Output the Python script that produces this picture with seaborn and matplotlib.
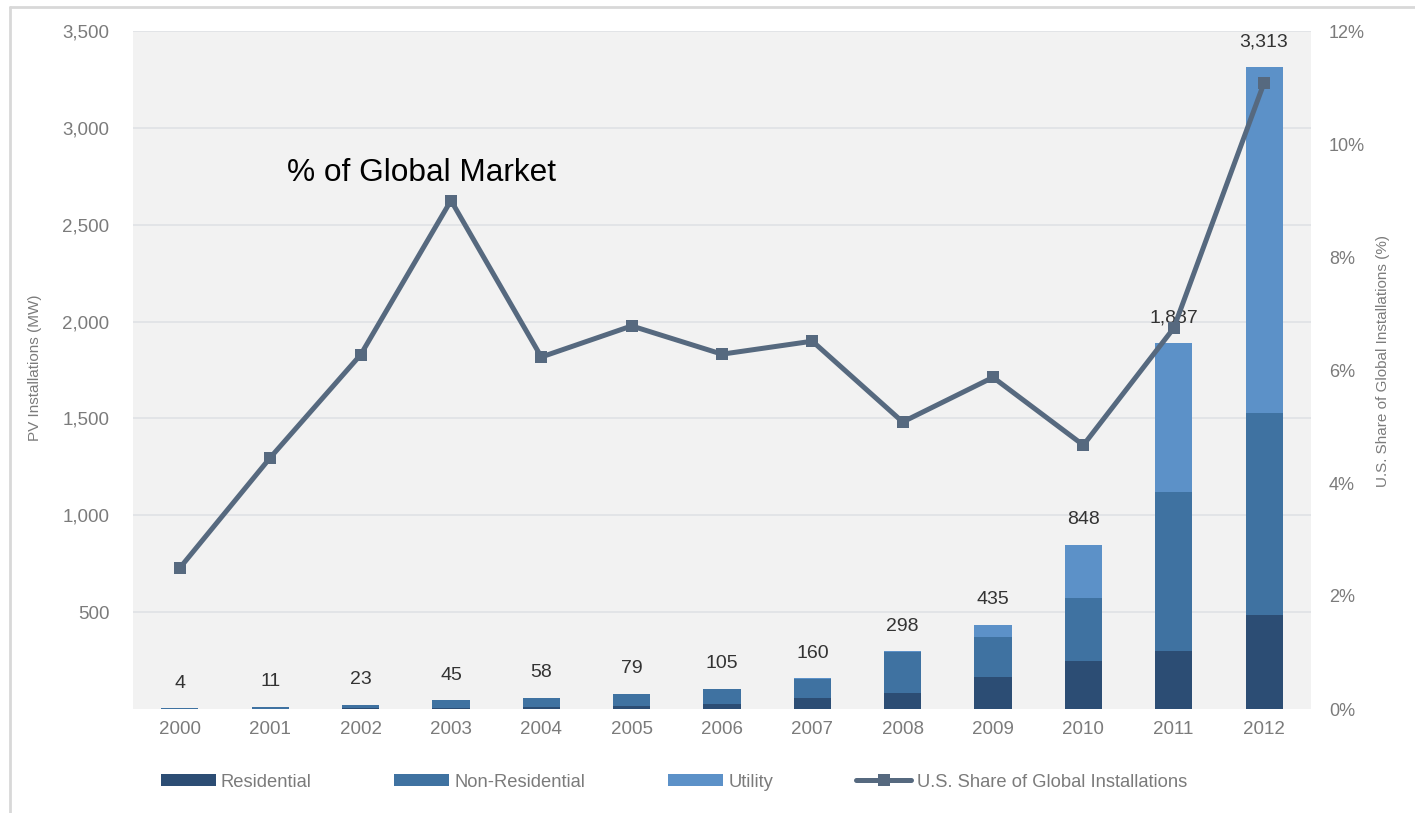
import matplotlib
matplotlib.use("Agg")
import matplotlib.pyplot as plt
from matplotlib.lines import Line2D
from matplotlib.patches import Patch
import numpy as np
import pandas as pd
import seaborn as sns

# --- data -------------------------------------------------------------
years = ["2000", "2001", "2002", "2003", "2004", "2005", "2006",
         "2007", "2008", "2009", "2010", "2011", "2012"]
residential = [1, 2, 4, 7, 12, 18, 27, 58, 82, 166, 249, 300, 484]
non_residential = [3, 9, 19, 38, 46, 61, 78, 99, 210, 206, 326, 819, 1042]
utility = [0, 0, 0, 0, 0, 0, 0, 3, 6, 63, 273, 768, 1787]
totals = [4, 11, 23, 45, 58, 79, 105, 160, 298, 435, 848, 1887, 3313]
us_share_pct = [2.5, 4.45, 6.27, 9.0, 6.23, 6.78, 6.28, 6.51, 5.08, 5.87, 4.67, 6.74, 11.08]

left_ticks = [500, 1000, 1500, 2000, 2500, 3000, 3500]
right_ticks = [0, 2, 4, 6, 8, 10, 12]

df = pd.DataFrame({
    "year": years,
    "res": residential,
    "res_nonres": np.add(residential, non_residential),
    "total": totals,
    "share": us_share_pct,
    "pos": np.arange(len(years)),
})

# --- style ------------------------------------------------------------
sns.set_theme(style="white")
plt.rcParams["font.family"] = ["Liberation Sans", "DejaVu Sans"]

c_res = "#2c4d74"
c_non = "#3f72a1"
c_uti = "#5c91c8"
c_line = "#56697f"
c_tick = "#7b7b7b"
c_val = "#333333"

W, H = 1415, 813
fig = plt.figure(figsize=(W / 100, H / 100), dpi=100)
fig.patch.set_facecolor("white")
ax = fig.add_axes([133 / W, 1 - 709 / H, (1311 - 133) / W, (709 - 31) / H])
ax.set_facecolor("#f2f2f2")

# stacked bars: draw cumulative heights from tallest to shortest
bw = 0.41
bar_kw = dict(width=bw, saturation=1, ax=ax, zorder=2, linewidth=0, edgecolor="none")
sns.barplot(data=df, x="year", y="total", color=c_uti, **bar_kw)
sns.barplot(data=df, x="year", y="res_nonres", color=c_non, **bar_kw)
sns.barplot(data=df, x="year", y="res", color=c_res, **bar_kw)

ax.set_xlim(-0.52, 12.52)
ax.set_ylim(0, 3500)
ax.set_yticks(left_ticks)
ax.set_yticklabels([f"{v:,}" for v in left_ticks])
ax.yaxis.grid(True, color="#e2e4e7", lw=1.4, zorder=0)
ax.set_axisbelow(True)
ax.tick_params(axis="y", length=0, pad=17, labelsize=13.5, labelcolor=c_tick)
ax.tick_params(axis="x", length=0, pad=9, labelsize=13.5, labelcolor=c_tick)
ax.set_xlabel("")
ax.set_ylabel("PV Installations (MW)", fontsize=11, color=c_tick)
ax.yaxis.set_label_coords((35 - 133) / 1178, (709 - 368) / 678)
ax.yaxis.label.set_va("center")
for s in ax.spines.values():
    s.set_visible(False)

# total labels above each bar
for i, t in enumerate(totals):
    ax.annotate(f"{t:,}", (i, t), xytext=(0, 18), textcoords="offset points",
                ha="center", va="center", fontsize=14, color=c_val, zorder=6)

# share line on the secondary axis
ax2 = ax.twinx()
sns.lineplot(data=df, x="pos", y="share", color=c_line, lw=3.6,
             marker="s", markersize=8, markeredgewidth=0, ax=ax2, zorder=5)
ax2.set_ylim(0, 12)
ax2.set_yticks(right_ticks)
ax2.set_yticklabels([f"{v}%" for v in right_ticks])
ax2.tick_params(axis="y", length=0, pad=13, labelsize=13, labelcolor=c_tick)
ax2.set_ylabel("U.S. Share of Global Installations (%)", fontsize=11, color=c_tick)
ax2.yaxis.set_label_coords((1383 - 133) / 1178, (709 - 361) / 678)
ax2.yaxis.label.set_va("center")
ax2.set_xlabel("")
for s in ax2.spines.values():
    s.set_visible(False)
ax2.set_xlim(-0.52, 12.52)

ax.text(1.18, 2768, "% of Global Market", fontsize=22.8, color="black",
        ha="left", va="center", zorder=7)

# legend below the plot
handles = [
    Patch(facecolor=c_res, edgecolor="none"),
    Patch(facecolor=c_non, edgecolor="none"),
    Patch(facecolor=c_uti, edgecolor="none"),
    Line2D([0], [0], color=c_line, lw=3.6, marker="s", markersize=8,
           markeredgewidth=0),
]
labels = ["Residential", "Non-Residential", "Utility",
          "U.S. Share of Global Installations"]
leg = fig.legend(handles, labels, loc="center left",
                 bbox_to_anchor=(155 / W, 1 - 782 / H), ncol=4, frameon=False,
                 fontsize=13.2, handlelength=3.0, handleheight=0.55,
                 handletextpad=0.3, columnspacing=4.5, borderaxespad=0,
                 borderpad=0.3)
for txt in leg.get_texts():
    txt.set_color(c_tick)

# light frame along the top and left edges
fig.add_artist(Line2D([10 / W, 10 / W], [0, 1 - 7 / H], transform=fig.transFigure,
                      color="#d8d8d8", lw=2))
fig.add_artist(Line2D([10 / W, 1], [1 - 7 / H, 1 - 7 / H], transform=fig.transFigure,
                      color="#d8d8d8", lw=2))

fig.savefig("out.png", dpi=100, facecolor="white")
